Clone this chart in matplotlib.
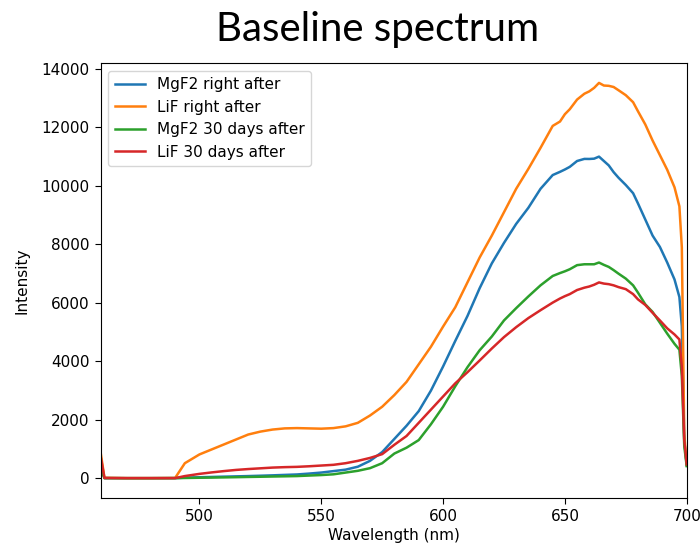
import matplotlib
matplotlib.use("Agg")
import matplotlib.pyplot as plt

wavelength = [459.5, 461, 470, 480, 490, 494, 500, 505, 510, 515, 520, 525, 530, 535,
              540, 545, 550, 555, 560, 565, 570, 575, 580, 585, 590, 595, 600, 605,
              610, 615, 620, 625, 630, 635, 640, 645, 648, 650, 652, 655, 658, 660,
              662, 664, 666, 668, 670, 672, 675, 678, 680, 683, 686, 689, 692, 695,
              697, 698, 699, 700]

mgf2_right_after = [400, 10, 8, 8, 10, 25, 40, 50, 60, 70, 80, 92, 105, 120,
                    135, 165, 200, 250, 300, 400, 600, 900, 1350, 1800, 2300, 3000, 3826, 4700,
                    5550, 6500, 7350, 8050, 8700, 9250, 9900, 10370, 10480, 10560, 10650, 10850, 10922, 10920,
                    10930, 11000, 10850, 10700, 10470, 10280, 10030, 9750, 9400, 8850, 8300, 7912, 7380, 6800,
                    6200, 5200, 1300, 450]

lif_right_after = [850, 20, 10, 10, 15, 520, 820, 990, 1160, 1330, 1500, 1600, 1670, 1710,
                   1720, 1710, 1700, 1720, 1780, 1900, 2150, 2450, 2850, 3300, 3900, 4500, 5190, 5850,
                   6700, 7550, 8300, 9100, 9900, 10580, 11300, 12050, 12200, 12450, 12620, 12950, 13150, 13230,
                   13350, 13520, 13430, 13420, 13380, 13270, 13100, 12860, 12550, 12100, 11550, 11050, 10550, 9950,
                   9300, 7900, 1500, 450]

mgf2_30_days = [300, 10, 8, 8, 10, 15, 23, 29, 35, 42, 50, 57, 65, 72,
                80, 98, 115, 140, 200, 260, 350, 520, 850, 1050, 1310, 1850, 2450, 3150,
                3800, 4380, 4850, 5400, 5820, 6220, 6600, 6920, 7020, 7080, 7150, 7290, 7320, 7320,
                7320, 7380, 7300, 7230, 7120, 7000, 6830, 6600, 6350, 5950, 5690, 5320, 4950, 4600,
                4400, 3500, 1100, 420]

lif_30_days = [720, 15, 10, 10, 10, 80, 155, 205, 250, 290, 320, 345, 370, 385,
               395, 415, 440, 465, 520, 600, 700, 830, 1150, 1450, 1900, 2350, 2800, 3250,
               3630, 4030, 4440, 4830, 5170, 5480, 5750, 6010, 6150, 6230, 6300, 6440, 6520, 6560,
               6620, 6700, 6660, 6640, 6600, 6540, 6470, 6300, 6120, 5930, 5660, 5400, 5130, 4920,
               4750, 3800, 1300, 480]

labels = ["MgF2 right after", "LiF right after", "MgF2 30 days after", "LiF 30 days after"]

fig = plt.figure(figsize=(7.0, 5.49), dpi=100)
ax = fig.add_axes([0.144, 0.093, 0.837, 0.792])

for series, lab in zip([mgf2_right_after, lif_right_after, mgf2_30_days, lif_30_days], labels):
    ax.plot(wavelength, series, label=lab, linewidth=1.8)

ax.set_xlim(459.5, 700)
ax.set_xticks([500, 550, 600, 650, 700])
ax.set_yticks(range(0, 14001, 2000))
ax.tick_params(labelsize=11, length=4.5)
ax.set_xlabel("Wavelength (nm)", fontsize=11, labelpad=3)
ax.set_ylabel("Intensity", fontsize=11, labelpad=9)
ax.legend(loc="upper left", fontsize=11)

fig.text(0.54, 0.98, "Baseline spectrum", ha="center", va="top",
         fontsize=29, family=["Lato", "DejaVu Sans"])

fig.savefig("out.png", dpi=100)
